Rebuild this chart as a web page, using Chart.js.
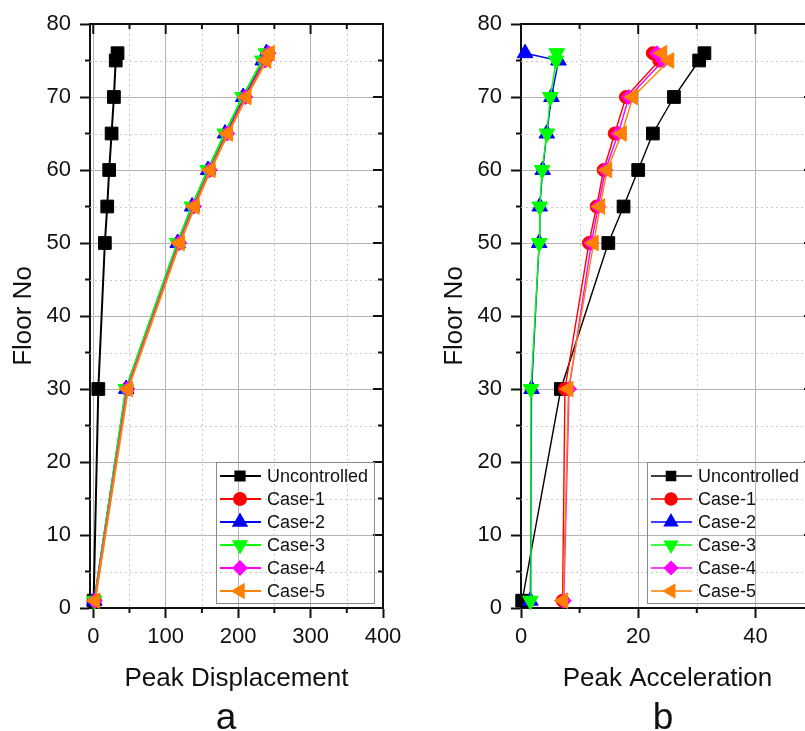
<!DOCTYPE html>
<html>
<head>
<meta charset="utf-8">
<script src="https://cdn.jsdelivr.net/npm/chart.js"></script>
<style>
  body { margin: 0; width: 805px; height: 731px; overflow: hidden; background: #fff; position: relative;
         font-family: "Liberation Sans", Arial, sans-serif; color: #111; }
  canvas { position: absolute; top: 0; }
  #dispChart { left: 0; }
  #accChart { left: 431px; }
  .panel { position: absolute; top: 699px; width: 60px; text-align: center; font-size: 37px; line-height: 36px; }
</style>
</head>
<body>
<canvas id="dispChart" width="420" height="731"></canvas>
<canvas id="accChart" width="420" height="731"></canvas>
<div class="panel" style="left:196px">a</div>
<div class="panel" style="left:633px">b</div>
<script>
const FONT = "'Liberation Sans', Arial, sans-serif";

const floors = [1, 30, 50, 55, 60, 65, 70, 75, 76];
const seriesNames = ['Uncontrolled', 'Case-1', 'Case-2', 'Case-3', 'Case-4', 'Case-5'];
const seriesColors = ['#000000', '#ff0000', '#0000ff', '#00ff00', '#ff00ff', '#ff8000'];

// peak displacement per floor
const dispUncontrolled = [0.5, 7, 16, 19.3, 22, 25.3, 28.5, 31, 33.5];
const dispCase1 = [2, 46.5, 118, 138, 160, 184, 209, 236, 241];
const dispCase2 = [1.5, 45.5, 116.5, 136.5, 158.5, 182, 207, 234, 239];
const dispCase3 = [1.5, 45, 116, 136, 158, 181.5, 206, 233.5, 238.5];
const dispCase4 = [2, 47, 118.5, 139, 161, 185, 210, 237.5, 242];
const dispCase5 = [2.5, 48, 119.6, 140, 162, 186, 211.6, 239, 243.7];

// peak acceleration per floor
const accUncontrolled = [0.2, 6.8, 14.9, 17.5, 20, 22.5, 26.1, 30.4, 31.3];
const accCase1 = [7.1, 7.5, 11.6, 12.9, 14.1, 16, 17.9, 23.6, 22.5];
const accCase2 = [1.6, 1.8, 3.1, 3.2, 3.7, 4.4, 5.2, 6.4, 0.7];
const accCase3 = [1.6, 1.7, 3.1, 3.2, 3.6, 4.4, 5.0, 6.0, 6.1];
const accCase4 = [7.3, 8.2, 12, 13.2, 14.4, 16.6, 18.4, 24.3, 23.2];
const accCase5 = [7.2, 8.1, 12.4, 13.5, 14.7, 17.2, 19.1, 25.3, 24.1];

const dispTicks = [0, 100, 200, 300, 400];
const accTicks = [0, 20, 40];
const floorTicks = [0, 10, 20, 30, 40, 50, 60, 70, 80];

// marker shapes: [pointStyle, rotation, radius]
const markers = [['rect', 0, 9], ['circle', 0, 6.5], ['triangle', 0, 9],
                 ['triangle', 180, 9], ['rectRot', 0, 7.5], ['triangle', -90, 9]];
const legendMarkers = [['rect', 0, 6.5], ['circle', 0, 6], ['triangle', 0, 7.5],
                       ['triangle', 180, 7.5], ['rectRot', 0, 6.5], ['triangle', -90, 7.5]];

function minorsOf(ticks, max) {
  const step = ticks[1] - ticks[0];
  return ticks.map(v => v + step / 2).filter(v => v <= max + 1e-9);
}

const framePlugin = {
  id: 'frame',
  beforeDatasetsDraw(chart, args, opts) {
    const {ctx, chartArea: a, scales: {x, y}} = chart;
    const seg = (x1, y1, x2, y2) => { ctx.beginPath(); ctx.moveTo(x1, y1); ctx.lineTo(x2, y2); ctx.stroke(); };
    const mx = minorsOf(opts.xTicks, x.max);
    const my = minorsOf(floorTicks, y.max);
    ctx.save();
    ctx.strokeStyle = '#cccccc';
    ctx.lineWidth = 1;
    ctx.setLineDash([2, 3]);
    mx.forEach(v => { const p = Math.round(x.getPixelForValue(v)) + 0.5; if (p < a.right - 2) seg(p, a.top, p, a.bottom); });
    my.forEach(v => { const p = Math.round(y.getPixelForValue(v)) + 0.5; if (p > a.top + 2) seg(a.left, p, a.right, p); });
    ctx.setLineDash([]);
    ctx.strokeStyle = '#111';
    ctx.lineWidth = 2;
    seg(a.left - 1, a.top, a.right + 1, a.top);
    seg(a.right, a.top, a.right, a.bottom + 1);
    // outward minor ticks on bottom/left, inward mirror ticks on top/right
    mx.forEach(v => {
      const p = x.getPixelForValue(v);
      seg(p, a.bottom, p, a.bottom + 5);
      seg(p, a.top, p, a.top + 5);
    });
    opts.xTicks.forEach(v => { const p = x.getPixelForValue(v); seg(p, a.top, p, a.top + 10); });
    my.forEach(v => {
      const p = y.getPixelForValue(v);
      seg(a.left - 5, p, a.left, p);
      seg(a.right - 5, p, a.right, p);
    });
    floorTicks.forEach(v => { const p = y.getPixelForValue(v); seg(a.right - 10, p, a.right, p); });
    ctx.restore();
  }
};

const boxLegendPlugin = {
  id: 'boxLegend',
  afterDatasetsDraw(chart) {
    const {ctx, chartArea: a} = chart;
    const w = 158, h = 141;
    const left = a.right - 9 - w, top = a.bottom - 5 - h;
    ctx.save();
    ctx.strokeStyle = '#8a8a8a';
    ctx.lineWidth = 1;
    ctx.strokeRect(left + 0.5, top + 0.5, w, h);
    ctx.font = '18px ' + FONT;
    ctx.textBaseline = 'middle';
    ctx.textAlign = 'left';
    chart.data.datasets.forEach((ds, i) => {
      const cy = top + 14 + i * 23;
      ctx.strokeStyle = ds.borderColor;
      ctx.lineWidth = ds.borderWidth;
      ctx.beginPath();
      ctx.moveTo(left + 4, cy);
      ctx.lineTo(left + 45, cy);
      ctx.stroke();
      const [style, rot, r] = legendMarkers[i];
      ctx.fillStyle = ds.borderColor;
      Chart.helpers.drawPoint(ctx, {pointStyle: style, rotation: rot, radius: r, borderWidth: 1}, left + 24, cy);
      ctx.fillStyle = '#111';
      ctx.fillText(ds.label, left + 51, cy + 1);
    });
    ctx.restore();
  }
};

function buildDatasets(seriesValues, lineWidth) {
  return seriesValues.map((vals, i) => ({
    label: seriesNames[i],
    data: floors.map((f, k) => ({x: vals[k], y: f})),
    showLine: true,
    borderColor: seriesColors[i],
    backgroundColor: seriesColors[i],
    borderWidth: lineWidth,
    pointStyle: markers[i][0],
    pointRotation: markers[i][1],
    pointRadius: markers[i][2],
    pointBackgroundColor: seriesColors[i],
    pointBorderColor: seriesColors[i],
    pointBorderWidth: 1,
    clip: false,
    order: seriesValues.length - i
  }));
}

function buildChart(id, seriesValues, lineWidth, xMin, xMax, xTicks, xTitle) {
  return new Chart(document.getElementById(id), {
    type: 'scatter',
    data: { datasets: buildDatasets(seriesValues, lineWidth) },
    plugins: [framePlugin, boxLegendPlugin],
    options: {
      responsive: false,
      animation: false,
      devicePixelRatio: 1,
      layout: { padding: { top: 24, right: 37, bottom: 0, left: 0 } },
      plugins: {
        legend: { display: false },
        tooltip: { enabled: false },
        frame: { xTicks: xTicks }
      },
      scales: {
        x: {
          type: 'linear', min: xMin, max: xMax,
          afterBuildTicks: s => { s.ticks = xTicks.map(v => ({value: v})); },
          afterFit: s => { s.height = 123; },
          grid: { color: '#b4b4b4', lineWidth: 1, tickLength: 10, tickColor: '#111', tickWidth: 2 },
          border: { color: '#111', width: 2 },
          ticks: { font: { size: 22, family: FONT }, color: '#111', padding: 6, maxRotation: 0, autoSkip: false },
          title: { display: true, text: xTitle, color: '#111',
                   font: { size: 26, family: FONT, lineHeight: 1 }, padding: { top: 0, bottom: 39 } }
        },
        y: {
          type: 'linear', min: 0, max: 80,
          afterBuildTicks: s => { s.ticks = floorTicks.map(v => ({value: v})); },
          afterFit: s => { s.width = 90; },
          grid: { color: '#b4b4b4', lineWidth: 1, tickLength: 10, tickColor: '#111', tickWidth: 2 },
          border: { color: '#111', width: 2 },
          ticks: { font: { size: 22, family: FONT }, color: '#111', padding: 9, autoSkip: false },
          title: { display: true, text: 'Floor No', color: '#111',
                   font: { size: 26, family: FONT, lineHeight: 1 }, padding: { top: 11, bottom: 0 } }
        }
      }
    }
  });
}

buildChart('dispChart',
  [dispUncontrolled, dispCase1, dispCase2, dispCase3, dispCase4, dispCase5],
  2, -4.5, 400, dispTicks, 'Peak Displacement');

buildChart('accChart',
  [accUncontrolled, accCase1, accCase2, accCase3, accCase4, accCase5],
  1.4, 0, 50, accTicks, 'Peak Acceleration');
</script>
</body>
</html>
